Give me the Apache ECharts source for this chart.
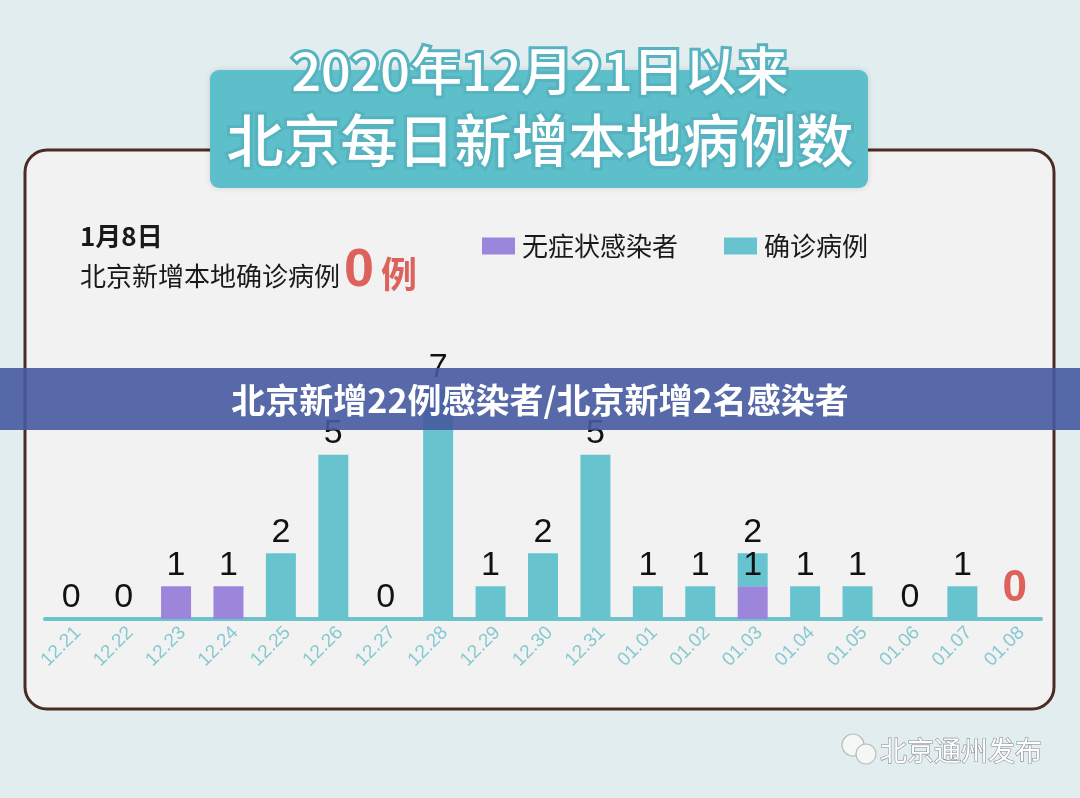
<!DOCTYPE html>
<html><head><meta charset="utf-8">
<script src="https://cdn.jsdelivr.net/npm/echarts@6/dist/echarts.min.js"></script>
<style>html,body{margin:0;padding:0;background:#e2edf0;}#c{width:1080px;height:798px;}</style>
</head><body><div id="c"></div>
<script>
const categories = ['12.21','12.22','12.23','12.24','12.25','12.26','12.27','12.28','12.29','12.30','12.31','01.01','01.02','01.03','01.04','01.05','01.06','01.07','01.08'];
const asymptomatic = [0,0,1,1,0,0,0,0,0,0,0,0,0,1,0,0,0,0,0];
const confirmed    = [0,0,0,0,2,5,0,7,1,2,5,1,1,1,1,1,0,1,0];
const seriesNames = ['无症状感染者','确诊病例'];
const titleLine1 = '2020年12月21日以来';
const titleLine2 = '北京每日新增本地病例数';
const banner = '北京新增22例感染者/北京新增2名感染者';

const CJK = '"Noto Sans CJK SC","Noto Sans",sans-serif';
const NUM = '"Liberation Sans",Arial,sans-serif';
const teal = '#67c4cf', purple = '#9c86db', red = '#dd625c';

const confirmedData = confirmed.map((v, i) => {
  const item = { value: v };
  if (i === confirmed.length - 1) {
    item.label = { color: red, fontSize: 44, fontWeight: 'bold', distance: 8 };
  }
  return item;
});

const chart = echarts.init(document.getElementById('c'), null, { renderer: 'canvas' });
chart.setOption({
  backgroundColor: '#e2edf0',
  animation: false,
  graphic: [
    { type: 'rect', z: -10, shape: { x: 25, y: 150, width: 1029, height: 559, r: 22 },
      style: { fill: '#f2f2f2', stroke: '#4b2b24', lineWidth: 3 } },
    { type: 'rect', z: 5, shape: { x: 210, y: 70, width: 658, height: 118, r: 9 },
      style: { fill: '#5cbfca', shadowBlur: 6, shadowColor: 'rgba(0,0,0,0.12)' } },
    { type: 'text', z: 6, x: 540, y: 71, style: { text: titleLine1, fill: '#ffffff', font: '500 52px ' + CJK,
      textAlign: 'center', textVerticalAlign: 'middle', stroke: '#56b3bf', lineWidth: 6,
      shadowBlur: 4, shadowColor: 'rgba(0,60,70,0.35)', shadowOffsetY: 2 } },
    { type: 'text', z: 6, x: 540, y: 140, style: { text: titleLine2, fill: '#ffffff', font: '500 57px ' + CJK,
      textAlign: 'center', textVerticalAlign: 'middle', stroke: '#56b3bf', lineWidth: 6,
      shadowBlur: 4, shadowColor: 'rgba(0,60,70,0.35)', shadowOffsetY: 2 } },
    { type: 'text', z: 6, x: 80, y: 236, style: { text: '1月8日', fill: '#1a1a1a', font: 'bold 26px ' + CJK,
      textVerticalAlign: 'middle' } },
    { type: 'text', z: 6, x: 80, y: 276, style: { text: '北京新增本地确诊病例', fill: '#1a1a1a', font: '26px ' + CJK,
      textVerticalAlign: 'middle' } },
    { type: 'text', z: 6, x: 344, y: 271, style: { text: '0', fill: red, font: 'bold 54px ' + NUM,
      textVerticalAlign: 'middle' } },
    { type: 'text', z: 6, x: 381, y: 274, style: { text: '例', fill: red, font: 'bold 36px ' + CJK,
      textVerticalAlign: 'middle' } },
    { type: 'rect', z: 100, shape: { x: 0, y: 368, width: 1080, height: 62 },
      style: { fill: 'rgba(70,90,160,0.9)' } },
    { type: 'text', z: 101, x: 540, y: 400, style: { text: banner, fill: '#ffffff', font: 'bold 34px ' + CJK,
      textAlign: 'center', textVerticalAlign: 'middle' } },
    { type: 'circle', z: 6, shape: { cx: 853, cy: 745, r: 11 }, style: { fill: '#f5f7f7', stroke: '#b8bcbd', lineWidth: 1.2 } },
    { type: 'circle', z: 7, shape: { cx: 866, cy: 754, r: 10 }, style: { fill: '#f5f7f7', stroke: '#b8bcbd', lineWidth: 1.2 } },
    { type: 'text', z: 7, x: 880, y: 751, style: { text: '北京通州发布', fill: '#ffffff', font: '27px ' + CJK,
      textVerticalAlign: 'middle', stroke: '#8a8e90', lineWidth: 1.2 } }
  ],
  legend: {
    left: 477, top: 228,
    itemWidth: 33, itemHeight: 17, itemGap: 46,
    icon: 'rect',
    textStyle: { fontSize: 26, color: '#1a1a1a', fontFamily: CJK, padding: [0, 0, 0, 2] },
    data: seriesNames
  },
  grid: { left: 45, right: 39, top: 356, bottom: 179 },
  xAxis: {
    type: 'category', data: categories,
    axisLine: { lineStyle: { color: '#6cc3cc', width: 4 } },
    axisTick: { show: false },
    axisLabel: { rotate: 45, color: '#86c9d0', fontSize: 19, fontFamily: NUM, margin: 4, interval: 0,
      verticalAlign: 'top' }
  },
  yAxis: { type: 'value', min: 0, max: 8, show: false, splitLine: { show: false } },
  series: [
    { name: seriesNames[0], type: 'bar', stack: 'a', barWidth: 30, data: asymptomatic,
      itemStyle: { color: purple },
      label: { show: true, position: 'top', distance: 4, color: '#111', fontSize: 34, fontFamily: NUM,
        formatter: p => p.value > 0 ? String(p.value) : '' } },
    { name: seriesNames[1], type: 'bar', stack: 'a', barWidth: 30, data: confirmedData,
      itemStyle: { color: teal },
      label: { show: true, position: 'top', distance: 4, color: '#111', fontSize: 34, fontFamily: NUM,
        formatter: p => {
          const i = p.dataIndex;
          if (confirmed[i] === 0 && asymptomatic[i] > 0) return '';
          return String(confirmed[i] + asymptomatic[i]);
        } } }
  ]
});
</script></body></html>
